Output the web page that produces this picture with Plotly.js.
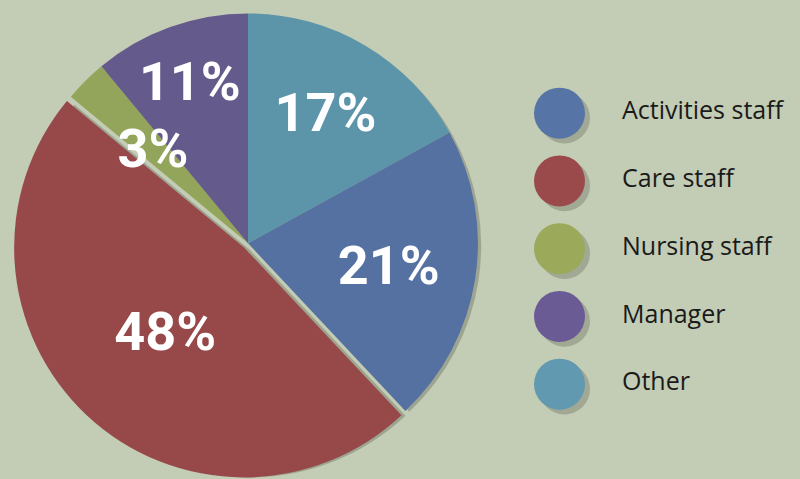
<!DOCTYPE html>
<html>
<head>
<meta charset="utf-8">
<script src="https://cdn.plot.ly/plotly-3.0.1.min.js"></script>
<style>
  html, body { margin: 0; padding: 0; background: #c3ccb5; }
  #chart { width: 800px; height: 479px; }
</style>
</head>
<body>
<div id="chart"></div>
<script>
// ---- data ----
const categories = ["Activities staff", "Care staff", "Nursing staff", "Manager", "Other"];
const shares = [21, 48, 3, 11, 17];
const sliceColors = ["#5571a2", "#97494a", "#93a55a", "#655a8c", "#5c95aa"];
const legendColors = ["#5674a5", "#9b4a4b", "#9aaa5a", "#6a5b95", "#6199b0"];
const pulled = [0, 0.025, 0, 0, 0];
// labels of very thin slices are placed on an inner ring
const innerLabel = [false, false, true, false, false];

const legendIndex = categories.map((c, i) => i);

const pieDomain = { x: [0.0153, 0.6047], y: [0, 0.984] };
const innerScale = 0.64;
function scaleRange(r, k) {
  const c = (r[0] + r[1]) / 2, h = (r[1] - r[0]) / 2 * k;
  return [c - h, c + h];
}

const labelFont = { family: "Roboto, sans-serif", size: 54, color: "#ffffff", weight: 700 };

const shadowPie = {
  type: "pie",
  values: shares,
  labels: categories,
  sort: false,
  direction: "clockwise",
  rotation: 61.2,
  pull: pulled,
  marker: { colors: categories.map(() => "rgba(60,60,50,0.28)"), line: { width: 0 } },
  textinfo: "none",
  hoverinfo: "skip",
  showlegend: false,
  domain: { x: [pieDomain.x[0] + 0.007, pieDomain.x[1] + 0.007], y: [pieDomain.y[0] - 0.01, pieDomain.y[1] - 0.01] }
};

const pie = {
  type: "pie",
  values: shares,
  labels: categories,
  sort: false,
  direction: "clockwise",
  rotation: 61.2,
  pull: pulled,
  marker: { colors: sliceColors, line: { width: 0 } },
  texttemplate: innerLabel.map(f => f ? "" : "%{value}%"),
  textposition: "inside",
  insidetextorientation: "horizontal",
  insidetextfont: labelFont,
  showlegend: false,
  domain: pieDomain
};

const innerTextPie = {
  type: "pie",
  values: shares,
  labels: categories,
  sort: false,
  direction: "clockwise",
  rotation: 61.2,
  pull: pulled,
  marker: { colors: categories.map(() => "rgba(0,0,0,0)"), line: { width: 0 } },
  texttemplate: innerLabel.map(f => f ? "%{value}%" : ""),
  textposition: "inside",
  insidetextorientation: "horizontal",
  insidetextfont: labelFont,
  hoverinfo: "skip",
  showlegend: false,
  domain: { x: scaleRange(pieDomain.x, innerScale), y: scaleRange(pieDomain.y, innerScale) }
};

const legendShadow = {
  type: "scatter",
  mode: "markers",
  x: legendIndex.map(() => 0.08),
  y: legendIndex.map(i => i + 0.07),
  marker: { size: 51, color: "rgba(40,40,30,0.22)", line: { width: 0 } },
  hoverinfo: "skip",
  showlegend: false
};

const legendMarkers = {
  type: "scatter",
  mode: "markers",
  x: legendIndex.map(() => 0),
  y: legendIndex,
  marker: { size: 51, color: legendColors, line: { width: 0 } },
  showlegend: false,
  hovertext: categories,
  hoverinfo: "text"
};

const legendLabels = {
  type: "scatter",
  mode: "text",
  x: legendIndex.map(() => 1),
  y: legendIndex,
  text: categories,
  textposition: "middle right",
  textfont: { family: "Open Sans, sans-serif", size: 25, color: "#1a1a1a" },
  showlegend: false,
  hoverinfo: "skip"
};

const layout = {
  width: 800,
  height: 479,
  margin: { l: 0, r: 0, t: 0, b: 0 },
  paper_bgcolor: "#c3ccb5",
  plot_bgcolor: "rgba(0,0,0,0)",
  showlegend: false,
  uniformtext: { mode: "show", minsize: 54 },
  xaxis: { visible: false, range: [-8.952, 3.848], fixedrange: true },
  yaxis: { visible: false, range: [5.40, -1.67], fixedrange: true }
};

Plotly.newPlot("chart", [legendShadow, legendMarkers, legendLabels, shadowPie, pie, innerTextPie], layout, { displayModeBar: false, staticPlot: true });
</script>
</body>
</html>
